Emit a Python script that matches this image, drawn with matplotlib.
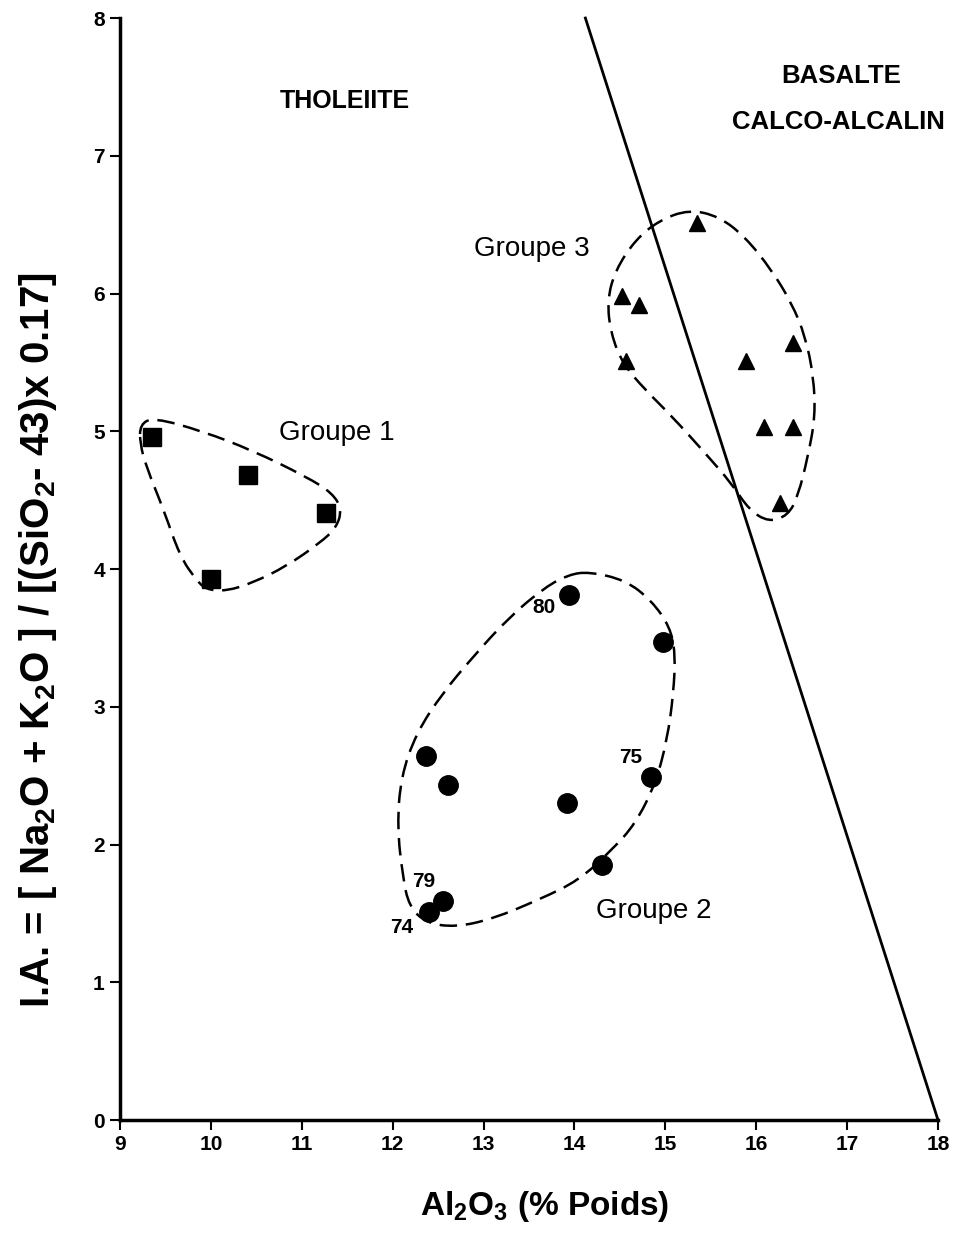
import numpy as np
import matplotlib
matplotlib.use("Agg")
import matplotlib.pyplot as plt
from matplotlib.path import Path
from matplotlib.patches import PathPatch

plt.rcParams['font.family'] = ['Liberation Sans', 'DejaVu Sans']
plt.rcParams['font.weight'] = 'bold'
plt.rcParams['mathtext.default'] = 'regular'

# Groupe 1 (carres)
g1_al2o3 = [9.35, 10.41, 11.27, 10.00]
g1_ia = [4.96, 4.68, 4.41, 3.93]

# Groupe 2 (cercles)
g2_al2o3 = [13.94, 14.97, 12.37, 12.61, 13.92, 14.84, 14.30, 12.55, 12.40]
g2_ia = [3.81, 3.47, 2.64, 2.43, 2.30, 2.49, 1.85, 1.59, 1.51]
g2_labels = ['80', '', '', '', '', '75', '', '79', '74']

# Groupe 3 (triangles)
g3_al2o3 = [15.35, 14.52, 14.71, 14.57, 15.89, 16.41, 16.09, 16.40, 16.26]
g3_ia = [6.51, 5.98, 5.92, 5.51, 5.51, 5.64, 5.03, 5.03, 4.48]

# limite tholeiite / calco-alcalin
limit_al2o3 = [14.12, 18.0]
limit_ia = [8.0, 0.0]

# contours des groupes (traces a la main)
env1 = [(9.22, 5.05), (9.37, 5.10), (9.91, 5.00), (10.46, 4.86), (11.05, 4.67),
        (11.34, 4.55), (11.44, 4.43), (11.38, 4.30), (11.20, 4.19), (10.83, 4.02),
        (10.46, 3.90), (10.17, 3.84), (9.95, 3.85), (9.84, 3.92), (9.66, 4.09),
        (9.48, 4.43), (9.29, 4.74), (9.22, 4.91)]
env2 = [(14.16, 3.98), (14.56, 3.92), (14.85, 3.77), (15.05, 3.58), (15.11, 3.39),
        (15.09, 3.10), (15.02, 2.76), (14.89, 2.44), (14.67, 2.15), (14.41, 1.96),
        (14.05, 1.74), (13.61, 1.60), (13.10, 1.46), (12.69, 1.40), (12.37, 1.43),
        (12.18, 1.55), (12.11, 1.77), (12.05, 2.13), (12.09, 2.49), (12.26, 2.81),
        (12.55, 3.10), (12.88, 3.36), (13.28, 3.65), (13.68, 3.87), (13.94, 3.96)]
env3 = [(15.26, 6.61), (15.59, 6.56), (15.88, 6.41), (16.17, 6.17), (16.39, 5.93),
        (16.54, 5.69), (16.63, 5.40), (16.65, 5.11), (16.57, 4.82), (16.46, 4.53),
        (16.35, 4.39), (16.14, 4.34), (15.92, 4.43), (15.73, 4.62), (15.44, 4.84),
        (15.07, 5.11), (14.78, 5.30), (14.53, 5.49), (14.40, 5.71), (14.36, 5.95),
        (14.45, 6.17), (14.67, 6.39), (14.93, 6.53)]


def smooth_closed(pts):
    # quadratic bezier through midpoints, points used as control points
    pts = np.asarray(pts)
    n = len(pts)
    mids = (pts + np.roll(pts, -1, axis=0)) / 2
    verts = [mids[-1]]
    codes = [Path.MOVETO]
    for i in range(n):
        verts += [pts[i], mids[i]]
        codes += [Path.CURVE3, Path.CURVE3]
    return Path(verts, codes)


fig = plt.figure(figsize=(9.55, 12.35), dpi=100)
ax = fig.add_axes([0.1257, 0.0931, 0.8565, 0.8923])

for env in (env1, env2, env3):
    ax.add_patch(PathPatch(smooth_closed(env), fill=False, ec='black', lw=1.8,
                           ls=(0, (7, 3.5))))

ax.plot(limit_al2o3, limit_ia, color='black', lw=2, clip_on=False)

ax.plot(g1_al2o3, g1_ia, 's', color='black', ms=13)
ax.plot(g2_al2o3, g2_ia, 'o', color='black', ms=14)
ax.plot(g3_al2o3, g3_ia, '^', color='black', ms=11)

label_pos = {'80': (13.66, 3.72), '75': (14.62, 2.63), '79': (12.34, 1.73), '74': (12.10, 1.40)}
for lab in g2_labels:
    if lab:
        ax.text(*label_pos[lab], lab, fontsize=15, ha='center', va='center')

ax.text(11.47, 7.40, 'THOLEIITE', fontsize=18, ha='center', va='center')
ax.text(16.93, 7.58, 'BASALTE', fontsize=18.5, ha='center', va='center')
ax.text(15.73, 7.245, 'CALCO-ALCALIN', fontsize=18.5, ha='left', va='center', clip_on=False)
ax.text(11.38, 4.99, 'Groupe 1', fontsize=20, ha='center', va='center', weight='normal')
ax.text(13.53, 6.32, 'Groupe 3', fontsize=20, ha='center', va='center', weight='normal')
ax.text(14.87, 1.52, 'Groupe 2', fontsize=20, ha='center', va='center', weight='normal')

ax.set_xlim(9, 18)
ax.set_ylim(0, 8)
ax.set_xticks(range(9, 19))
ax.set_yticks(range(0, 9))
ax.tick_params(direction='out', length=7, width=1.5, labelsize=15, pad=4)
for lab in ax.get_xticklabels() + ax.get_yticklabels():
    lab.set_fontweight('bold')

for s in ('top', 'right'):
    ax.spines[s].set_visible(False)
for s in ('left', 'bottom'):
    ax.spines[s].set_linewidth(2.5)

fig.text(545 / 955, 1 - 1207 / 1235, 'Al$_2$O$_3$ (% Poids)', fontsize=24,
         fontweight='bold', ha='center', va='center')
fig.text(38 / 955, 1 - 640 / 1235, 'I.A. = [ Na$_2$O + K$_2$O ] / [(SiO$_2$- 43)x 0.17]',
         fontsize=29, fontweight='bold', rotation=90, ha='center', va='center')

fig.savefig('out.png', dpi=100)
